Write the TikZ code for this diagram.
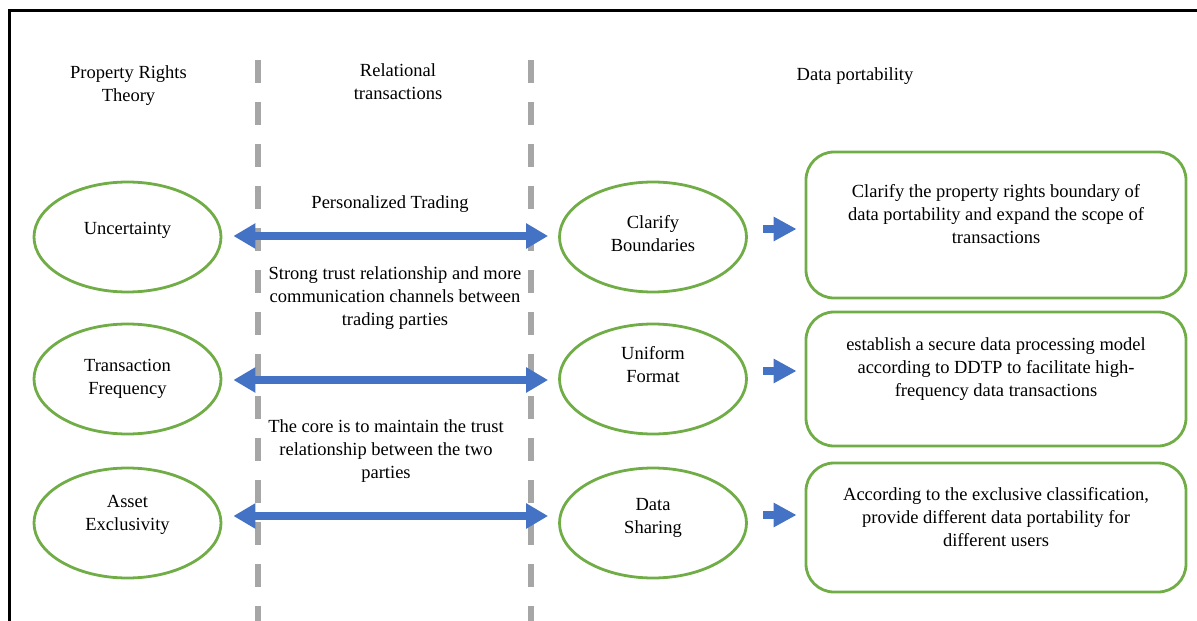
\documentclass[tikz,border=0pt]{standalone}
\usepackage{fontspec}
\setmainfont{Liberation Serif}
\usetikzlibrary{shapes.geometric,arrows.meta}
\definecolor{ovalgreen}{HTML}{70AD47}
\definecolor{arrowblue}{HTML}{4472C4}
\definecolor{sepgray}{HTML}{A6A6A6}
\begin{document}
\begin{tikzpicture}[x=1pt,y=-1pt,
  font=\fontsize{18.5}{23}\selectfont,
  txt/.style={align=center,inner sep=0pt},
  oval/.style={ellipse,draw=ovalgreen,line width=2.8pt,minimum width=187pt,minimum height=110pt,inner sep=0pt},
  rbox/.style={draw=ovalgreen,line width=2.8pt,rounded corners=28pt,minimum width=380pt,inner sep=0pt},
  sep/.style={sepgray,line width=5.5pt,dash pattern=on 23pt off 19pt},
  dbl/.style={arrowblue,line width=8pt,{Triangle[width=24pt,length=22pt]}-{Triangle[width=24pt,length=22pt]}},
  fwd/.style={arrowblue,line width=8pt,-{Triangle[width=23pt,length=23pt]}}]

\useasboundingbox (0,0) rectangle (1197,621);

% --- Cornice ---
\draw[line width=3pt] (1197,10.5) -| (9.5,621);

% --- Separatori tratteggiati ---
\draw[sep] (258,60) -- (258,621);
\draw[sep] (531,60) -- (531,621);

% --- Intestazioni ---
\node[txt] (hprop) at (128.5,85.5) {Property Rights\\Theory};
\node[txt] (hrel) at (398,82) {Relational\\transactions};
\node[txt] (hdata) at (855,76) {Data portability};

% --- Ellissi a sinistra ---
\node[oval] (unc) at (127.5,237) {};
\node[txt] (uncT) at ([yshift=7]unc.center) {Uncertainty};
\node[oval] (freq) at (127.5,379) {};
\node[txt] (freqT) at ([yshift=0]freq.center) {Transaction\\Frequency};
\node[oval] (excl) at (127.5,523) {};
\node[txt] (exclT) at ([yshift=8.5]excl.center) {Asset\\Exclusivity};

% --- Ellissi a destra ---
\node[oval] (clar) at (653,237) {};
\node[txt] (clarT) at ([yshift=3.5]clar.center) {Clarify\\Boundaries};
\node[oval] (unif) at (653,379) {};
\node[txt] (unifT) at ([yshift=14]unif.center) {Uniform\\Format};
\node[oval] (shar) at (653,523) {};
\node[txt] (sharT) at ([yshift=5.5]shar.center) {Data\\Sharing};

% --- Riquadri ---
\node[rbox,minimum height=146pt] (box1) at (996,225) {};
\node[txt] (box1T) at ([yshift=11]box1.center) {Clarify the property rights boundary of\\data portability and expand the scope of\\transactions};
\node[rbox,minimum height=134pt] (box2) at (996,379) {};
\node[txt] (box2T) at ([yshift=9.5]box2.center) {establish a secure data processing model\\according to DDTP to facilitate high-\\frequency data transactions};
\node[rbox,minimum height=129pt] (box3) at (996,527.5) {};
\node[txt] (box3T) at ([yshift=10.5]box3.center) {According to the exclusive classification,\\provide different data portability for\\different users};

% --- Testi centrali ---
\node[txt] (pers) at (390,204.5) {Personalized Trading};
\node[txt] (trust) at (395,298.5) {Strong trust relationship and more\\communication channels between\\trading parties};
\node[txt] (core) at (386,451.5) {The core is to maintain the trust\\relationship between the two\\parties};

% --- Frecce doppie ---
\draw[dbl] ([xshift=11,yshift=1]unc.east) -- ([xshift=-10,yshift=1]clar.west);
\draw[dbl] ([xshift=11,yshift=-1]freq.east) -- ([xshift=-10,yshift=-1]unif.west);
\draw[dbl] ([xshift=11,yshift=7]excl.east) -- ([xshift=-10,yshift=7]shar.west);

% --- Frecce verso i riquadri ---
\draw[fwd] ([xshift=15,yshift=8]clar.east) -- ([xshift=-8,yshift=8]box1.west |- clar.east);
\draw[fwd] ([xshift=15,yshift=8]unif.east) -- ([xshift=-8,yshift=8]box2.west |- unif.east);
\draw[fwd] ([xshift=15,yshift=8]shar.east) -- ([xshift=-8,yshift=8]box3.west |- shar.east);

\end{tikzpicture}
\end{document}
